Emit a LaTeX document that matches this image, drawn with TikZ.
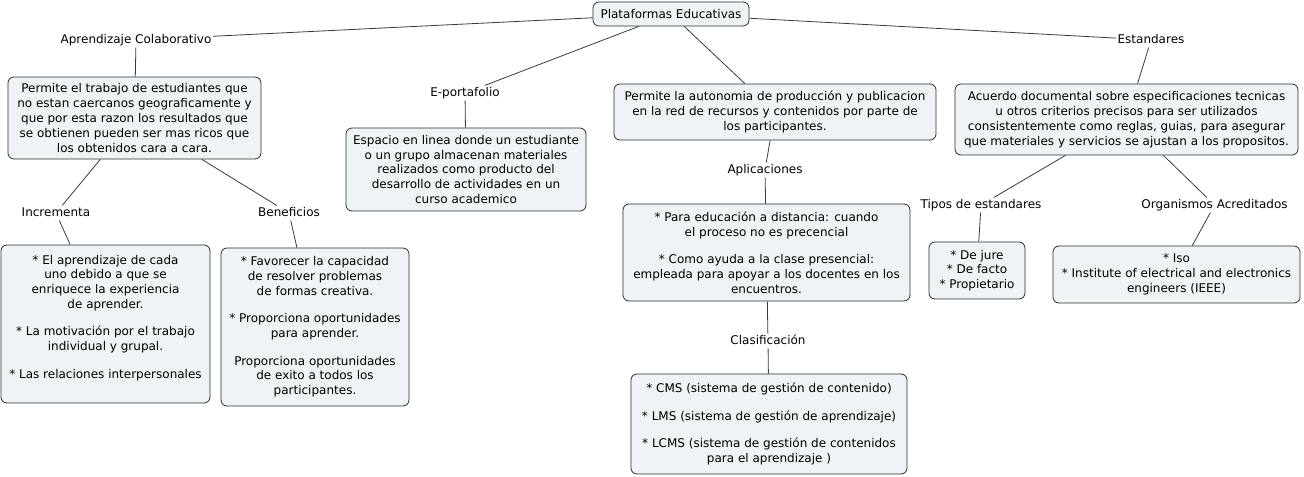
\documentclass[tikz,border=0pt]{standalone}
\usepackage{fontspec}
\setmainfont{DejaVu Sans}
\definecolor{conceptfill}{HTML}{EEF3F5}
\definecolor{conceptborder}{HTML}{2E2E2E}
\definecolor{linkgray}{HTML}{3A3A3A}

\begin{document}
\begin{tikzpicture}[
      x=0.75pt, y=-0.75pt,
      concept/.style={draw=conceptborder, fill=conceptfill, rounded corners=4.5pt,
        align=center, inner sep=2pt, line width=0.6pt,
        font=\fontsize{9}{11.1}\selectfont},
      phrase/.style={inner sep=1pt, text height=6.9pt, text depth=2pt,
        font=\fontsize{9}{11.1}\selectfont},
      link/.style={draw=linkgray, line width=0.6pt}
    ]
      \useasboundingbox (0,0) rectangle (1304,477);
      \node[concept, minimum width=117pt, minimum height=18pt] (plat) at (671,14)
        {Plataformas Educativas};
      % rama izquierda
      \node[phrase] (aprend) at (136,40) {Aprendizaje Colaborativo};
      \node[concept, minimum width=189.75pt, minimum height=61.5pt] (colab) at (134.5,118)
        {Permite el trabajo de estudiantes que\\no estan caercanos geograficamente y\\
         que por esta razon los resultados que\\se obtienen pueden ser mas ricos que\\
         los obtenidos cara a cara.};
      \node[phrase] (incr) at (56,213) {Incrementa};
      \node[phrase] (benef) at (289,213) {Beneficios};
      \node[concept, minimum width=156.75pt, minimum height=118.5pt] (incrbox) at (105.5,324)
        {* El aprendizaje de cada\\uno debido a que se\\enriquece la experiencia\\
         de aprender.\\[9.5pt]* La motivación por el trabajo\\individual y grupal.\\[9.5pt]
         * Las relaciones interpersonales\\ \mbox{}};
      \node[concept, minimum width=141pt, minimum height=118.5pt] (benefbox) at (315,327)
        {* Favorecer la capacidad\\de resolver problemas\\de formas creativa.\\[9.5pt]
         * Proporciona oportunidades\\para aprender.\\[9.5pt]
         Proporciona oportunidades\\de exito a todos los\\participantes.};
      % e-portafolio
      \node[phrase] (eport) at (465,93) {E-portafolio};
      \node[concept, minimum width=180pt, minimum height=62.25pt] (eportbox) at (466,169.5)
        {Espacio en linea donde un estudiante\\o un grupo almacenan materiales\\
         realizados como producto del\\desarrollo de actividades en un\\curso academico};
      % rama central
      \node[concept, minimum width=241.5pt, minimum height=42pt] (auto) at (775,112)
        {Permite la autonomia de producción y publicacion\\
         en la red de recursos y contenidos por parte de\\los participantes.};
      \node[phrase] (aplic) at (765,170) {Aplicaciones};
      \node[concept, minimum width=215.25pt, minimum height=72.75pt] (aplicbox) at (766.5,252.5)
        {* Para educación a distancia: cuando\\el proceso no es precencial\\[9.5pt]
         * Como ayuda a la clase presencial:\\
         empleada para apoyar a los docentes en los\\encuentros.};
      \node[phrase] (clasif) at (768,341) {Clasificación};
      \node[concept, minimum width=207pt, minimum height=75pt] (clasifbox) at (769,424)
        {* CMS (sistema de gestión de contenido)\\[9.5pt]
         * LMS (sistema de gestión de aprendizaje)\\[9.5pt]
         * LCMS (sistema de gestión de contenidos\\para el aprendizaje )};
      % rama derecha
      \node[phrase] (estand) at (1151,40) {Estandares};
      \node[concept, minimum width=257.25pt, minimum height=53.25pt] (estbox) at (1126.5,119.5)
        {Acuerdo documental sobre especificaciones tecnicas\\
         u otros criterios precisos para ser utilizados\\
         consistentemente como reglas, guias, para asegurar\\
         que materiales y servicios se ajustan a los propositos.};
      \node[phrase] (tipos) at (981,205) {Tipos de estandares};
      \node[phrase] (organ) at (1214.5,205) {Organismos Acreditados};
      \node[concept, minimum width=72pt, minimum height=42.75pt] (tiposbox) at (977,270.5)
        {* De jure\\* De facto\\* Propietario};
      \node[concept, minimum width=185.25pt, minimum height=42.75pt] (organbox) at (1176.5,274.5)
        {* Iso\\* Institute of electrical and electronics\\engineers (IEEE)};
      \foreach \a/\b in {plat/aprend, aprend/colab, colab/incr, incr/incrbox,
          colab/benef, benef/benefbox, plat/eport, eport/eportbox, plat/auto,
          auto/aplic, aplic/aplicbox, aplicbox/clasif, clasif/clasifbox,
          plat/estand, estand/estbox, estbox/tipos, tipos/tiposbox,
          estbox/organ, organ/organbox}
        \draw[link] (\a) -- (\b);
    \end{tikzpicture}
\end{document}
